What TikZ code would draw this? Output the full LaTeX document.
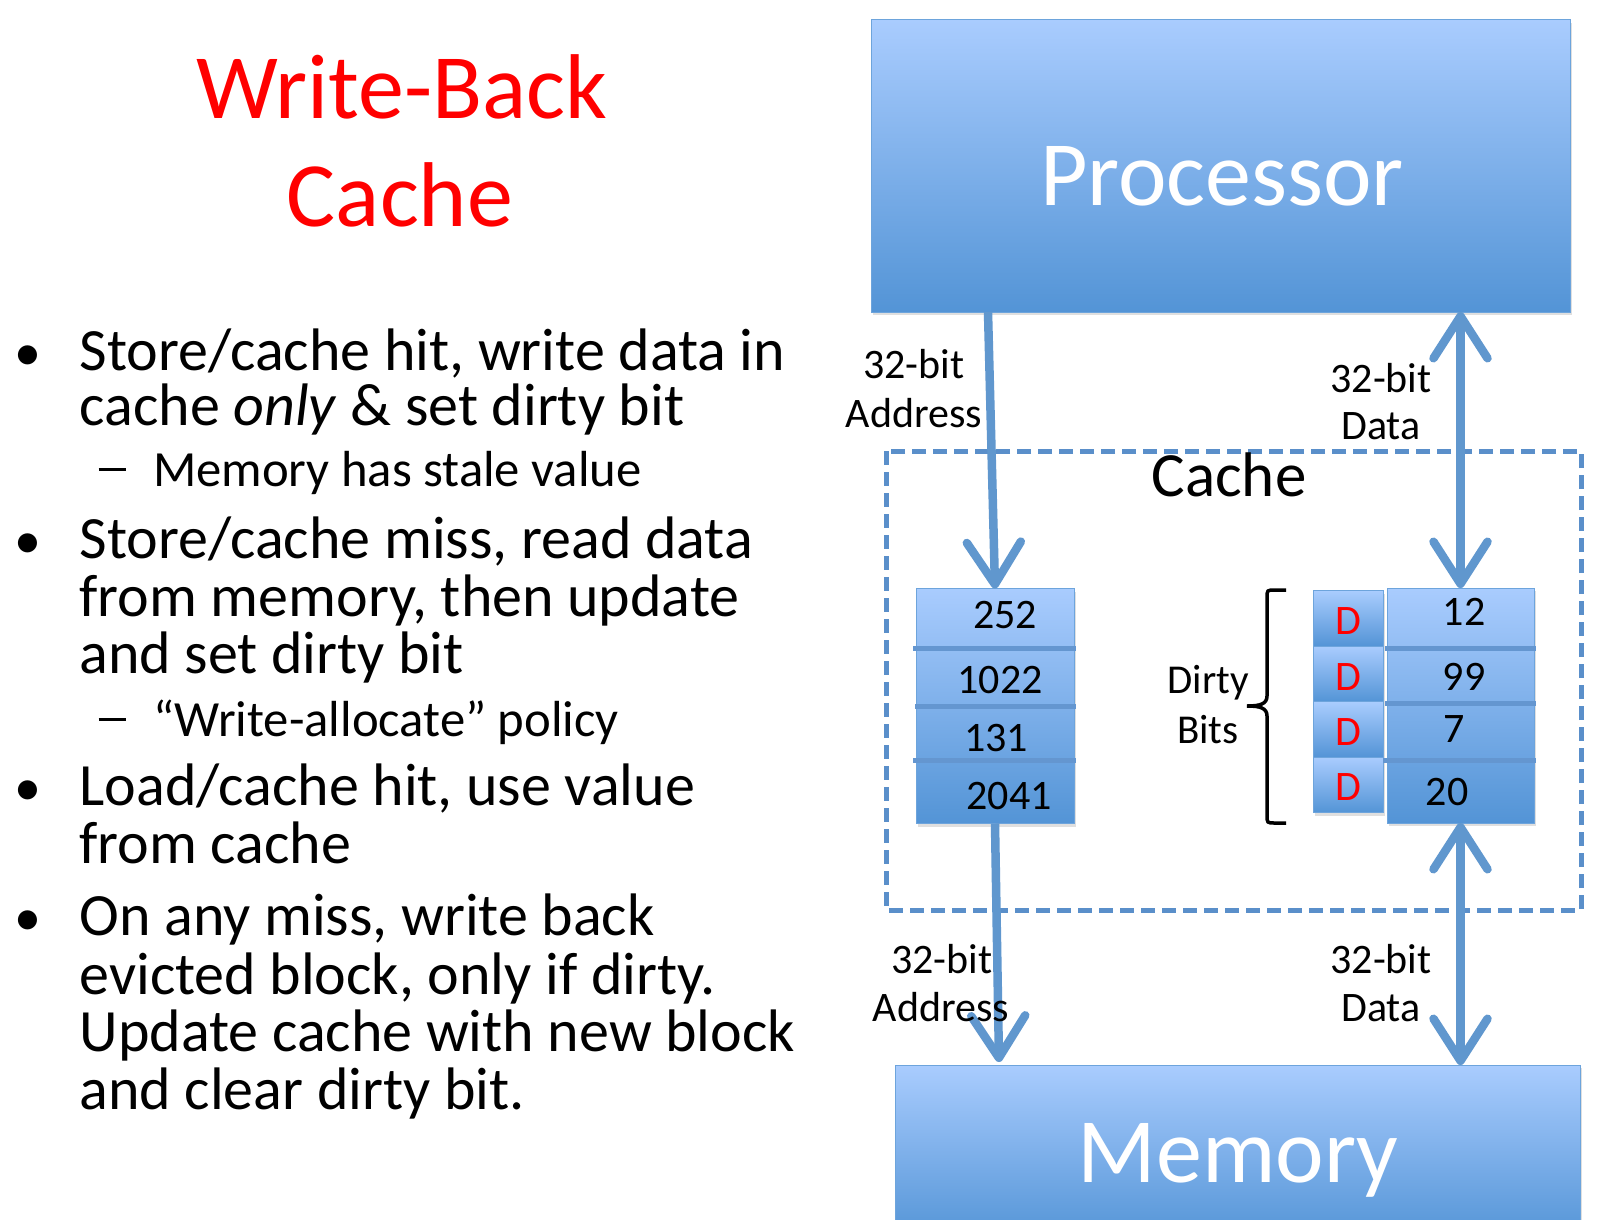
\documentclass[tikz,border=0pt]{standalone}
\usepackage{fontspec}
\setmainfont{Carlito}
\usetikzlibrary{arrows.meta,shadows}
\definecolor{boxtop}{HTML}{A9CCFE}
\definecolor{boxbot}{HTML}{5394D6}
\definecolor{wire}{HTML}{6097CE}
\definecolor{dashc}{HTML}{5A8FCA}
\definecolor{rowline}{HTML}{6496D0}
\definecolor{titlered}{HTML}{FF0000}

\tikzset{barb/.tip={Straight Barb[length=42pt, width=54pt, line width=8.5pt, round]}}

\begin{document}
\begin{tikzpicture}[x=1pt,y=-1pt,
  every node/.style={inner sep=0pt, outer sep=0pt},
  unitbox/.style={draw=boxbot!85, line width=1pt, top color=boxtop, bottom color=boxbot,
    drop shadow={opacity=0.25, shadow xshift=2pt, shadow yshift=-3pt}},
  bigtxt/.style={text=white, font=\fontsize{92}{92}\selectfont, anchor=base},
  wiretxt/.style={font=\fontsize{42}{42}\selectfont, anchor=base},
  celltxt/.style={font=\fontsize{42}{42}\selectfont, anchor=base},
  bodytxt/.style={font=\fontsize{60}{60}\selectfont, anchor=base west},
  subtxt/.style={font=\fontsize{50.7}{50.7}\selectfont, anchor=base west},
  wire/.style={draw=wire, line width=8.5pt},
  rowrule/.style={draw=rowline, line width=5pt}]

\useasboundingbox (0,0) rectangle (1598,1220);
\clip (0,0) rectangle (1598,1220);
\fill[white] (0,0) rectangle (1598,1220);

% ---- title ----
\node[text=titlered, font=\fontsize{92}{92}\selectfont, anchor=base] (t1) at (402,119) {Write-Back};
\node[text=titlered, font=\fontsize{92}{92}\selectfont, anchor=base] (t2) at (400,226) {Cache};

% ---- bullet list ----
\foreach \n/\y in {b1/370, b2/558, b3/805, b4/935}
  \node[font=\fontsize{54}{54}\selectfont, anchor=base] (\n) at (27.5,\y) {•};
\foreach \n/\y in {s1/486, s2/736}
  \node[anchor=base] (\n) at (112,\y) {\rule[15pt]{27pt}{3.5pt}};

\node[bodytxt] (l1) at (79.5,370) {Store/cache hit, write data in};
\node[bodytxt] (l2) at (79.5,425) {cache \textit{only} \& set dirty bit};
\node[subtxt]  (l3) at (153,486) {Memory has stale value};
\node[bodytxt] (l4) at (79.5,558) {Store/cache miss, read data};
\node[bodytxt] (l5) at (79.5,616) {from memory, then update};
\node[bodytxt] (l6) at (79.5,673) {and set dirty bit};
\node[subtxt]  (l7) at (153,736) {“Write-allocate” policy};
\node[bodytxt] (l8) at (79.5,805) {Load/cache hit, use value};
\node[bodytxt] (l9) at (79.5,863) {from cache};
\node[bodytxt] (l10) at (79.5,935) {On any miss, write back};
\node[bodytxt] (l11) at (79.5,994) {evicted block, only if dirty.};
\node[bodytxt] (l12) at (79.5,1051) {Update cache with new block};
\node[bodytxt] (l13) at (79.5,1109) {and clear dirty bit.};

% ---- processor and memory ----
\node[unitbox, minimum width=699pt, minimum height=292pt] (proc) at (1220.5,166) {};
\node[bigtxt] (procl) at (1222,205) {Processor};
\node[unitbox, minimum width=685pt, minimum height=175pt] (mem) at (1237.5,1152.5) {};
\node[bigtxt] (meml) at (1238,1182) {Memory};

% ---- cache outline ----
\draw[dashc, line width=5pt, dash pattern=on 14pt off 7pt] (886,451) rectangle (1581,910);
\node[font=\fontsize{63}{63}\selectfont, anchor=base] (cachel) at (1229,496) {Cache};

% ---- tag column ----
\node[unitbox, minimum width=158pt, minimum height=235pt] (tags) at (995,706) {};
\draw[rowrule] (913,648) -- (1076,648);
\draw[rowrule] (915,706) -- (1076,706);
\draw[rowrule] (913,760) -- (1076,760);
\node[celltxt] (tg1) at (1005,628) {252};
\node[celltxt] (tg2) at (1000,693) {1022};
\node[celltxt] (tg3) at (996,751) {131};
\node[celltxt] (tg4) at (1009,809) {2041};

% ---- dirty bits ----
\foreach \i/\y/\b in {1/618.5/634, 2/674/690, 3/729.5/745, 4/785/800} {
  \node[unitbox, minimum width=70pt, minimum height=55.5pt] (d\i) at (1348,\y) {};
  \node[celltxt, text=titlered] (dl\i) at (1348,\b) {D};
}

% ---- data column ----
\node[unitbox, minimum width=147pt, minimum height=235pt] (data) at (1460.5,705.5) {};
\draw[rowrule] (1385,648) -- (1536,648);
\draw[rowrule] (1385,703) -- (1536,703);
\draw[rowrule] (1383,760) -- (1536,760);
\node[celltxt] (dt1) at (1464,625) {12};
\node[celltxt] (dt2) at (1464,690) {99};
\node[celltxt] (dt3) at (1454,742) {7};
\node[celltxt] (dt4) at (1447,805) {20};

% ---- brace and its label ----
\draw[line width=3.5pt] (1286,590) -- (1275,590) .. controls (1267,590) .. (1267,598)
  -- (1267,696) .. controls (1267,704) and (1260,706) .. (1247,706)
  .. controls (1260,706) and (1267,708) .. (1267,716)
  -- (1267,815) .. controls (1267,823) .. (1275,823) -- (1286,823);
\node[font=\fontsize{41}{41}\selectfont, anchor=base] (dirty1) at (1208,693) {Dirty};
\node[font=\fontsize{41}{41}\selectfont, anchor=base] (dirty2) at (1208,743) {Bits};

% ---- wires ----
\coordinate (pa) at (988,312);
\coordinate (ma) at (999,1062);
\draw[wire, -{barb}] (pa) -- (tags.north);
\draw[wire, {barb}-{barb}] (proc.south -| data.north) -- (data.north);
\draw[wire, -{barb}] (tags.south) -- (ma);
\draw[wire, {barb}-{barb}] (data.south) -- (mem.north -| data.south);

% ---- wire labels ----
\node[wiretxt] (w1a) at (914,378) {32-bit};
\node[wiretxt] (w1b) at (914,427) {Address};
\node[wiretxt] (w2a) at (1381,392) {32-bit};
\node[wiretxt] (w2b) at (1381,439) {Data};
\node[wiretxt] (w3a) at (942,973) {32-bit};
\node[wiretxt] (w3b) at (941,1021) {Address};
\node[wiretxt] (w4a) at (1381,973) {32-bit};
\node[wiretxt] (w4b) at (1381,1021) {Data};

\end{tikzpicture}
\end{document}
